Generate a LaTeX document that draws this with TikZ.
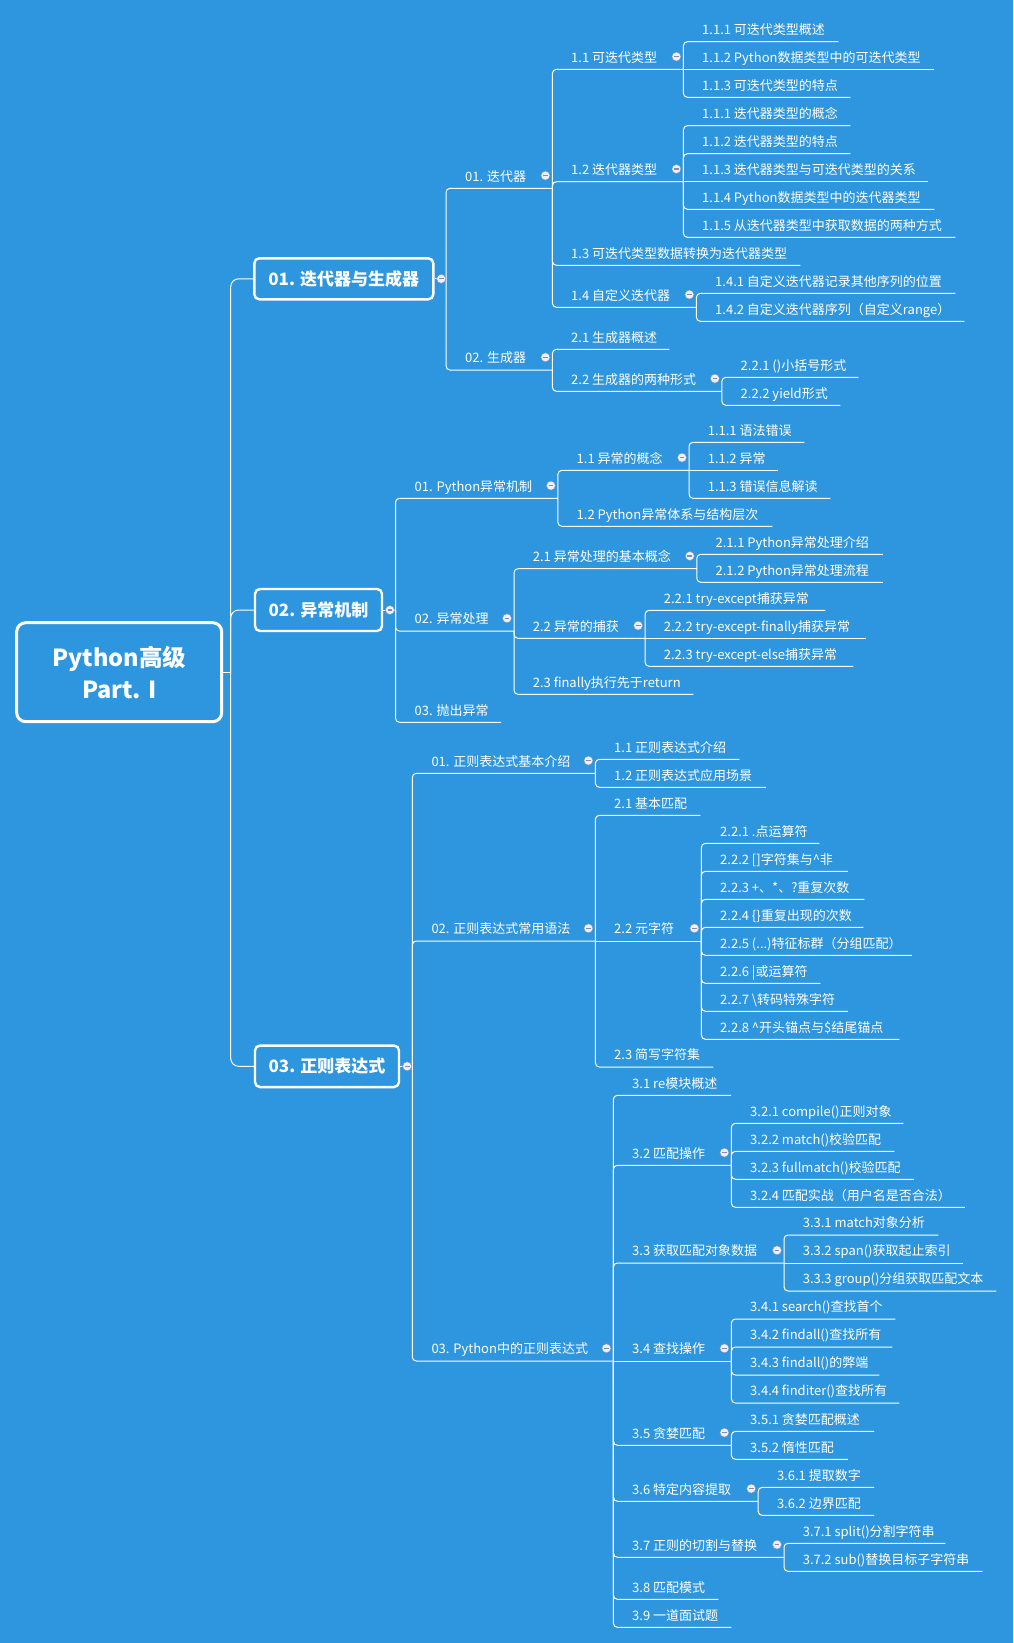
\documentclass[tikz,border=0pt]{standalone}
\usepackage{fontspec}
\setmainfont{Noto Sans CJK SC}
\definecolor{bg}{RGB}{46,150,222}
\definecolor{foldfill}{RGB}{236,240,248}
\definecolor{foldline}{RGB}{130,140,180}
\newcommand\mmItemFont{\fontsize{13pt}{15pt}\selectfont}
\newcommand\mmBoxFont{\fontsize{17pt}{20pt}\selectfont\bfseries}
\newcommand\mmRootFont{\fontsize{23.5pt}{31.6pt}\selectfont\bfseries}
\tikzset{
  conn/.style={draw=white, line width=1pt, rounded corners=4pt},
  item/.style={anchor=south west, inner sep=0pt, text=white, font=\mmItemFont},
  mainbox/.style={draw=white, line width=2.4pt, rounded corners=5pt, text=white, font=\mmBoxFont, inner sep=0pt},
  rootbox/.style={draw=white, line width=3pt, rounded corners=9pt, text=white, font=\mmRootFont, align=center, inner sep=0pt},
  fold/.style={circle, fill=foldfill, draw=foldline, line width=0.4pt, minimum size=9pt, inner sep=0pt,
    path picture={\draw[foldline, line width=1.2pt] ([xshift=-2.4pt]path picture bounding box.center) -- ([xshift=2.4pt]path picture bounding box.center);}}
}
\newcommand\mmleaf[5]{\node[item] (#1) at (#2,#3) {\makebox[\dimexpr #4pt-#2pt\relax][l]{\hspace*{19pt}\rule[-7pt]{0pt}{20pt}#5}};}
\newcommand\mmfold[1]{\node[fold] (f#1) at ([xshift=-7pt,yshift=12.7pt]#1.south east) {};}
\newcommand\mmlink[2]{\draw[conn] (#1) |- (#2.south east);}
\newcommand\mmstraight[2]{\draw[conn] (#1) -- (#2.south east);}
\begin{document}
\begin{tikzpicture}[x=1pt,y=-1pt]
\fill[bg] (0,0) rectangle (1013,1643);
\useasboundingbox (0,0) rectangle (1013,1643);

% root and main boxes
\node[rootbox, minimum width=205pt, minimum height=99pt] (R) at (119.2,672.2) {Python高级\\Part. I};
\node[mainbox, minimum width=179pt, minimum height=41pt] (M1) at (343.8,278.8) {01. 迭代器与生成器};
\node[mainbox, minimum width=127pt, minimum height=42pt] (M2) at (318.5,610) {02. 异常机制};
\node[mainbox, minimum width=144pt, minimum height=41.5pt] (M3) at (327,1066.3) {03. 正则表达式};
\coordinate (rj) at (230.7,672.2);
\coordinate (j1) at (446,278.8);
\coordinate (j2) at (395.5,610);
\coordinate (j3) at (412.3,1066.3);

% ---- branch 1
\mmleaf{a1}{446}{188.3}{552}{01. 迭代器}
\mmleaf{a2}{446}{370}{552}{02. 生成器}
\mmleaf{a11}{552}{69.3}{683}{1.1 可迭代类型}
\mmleaf{a12}{552}{181.7}{683}{1.2 迭代器类型}
\mmleaf{a13}{552}{265.3}{800}{1.3 可迭代类型数据转换为迭代器类型}
\mmleaf{a14}{552}{307.3}{696}{1.4 自定义迭代器}
\mmleaf{a111}{683}{41.7}{838}{1.1.1 可迭代类型概述}
\mmleaf{a112}{683}{69.3}{934}{1.1.2 Python数据类型中的可迭代类型}
\mmleaf{a113}{683}{97.3}{850}{1.1.3 可迭代类型的特点}
\mmleaf{a121}{683}{125.7}{850}{1.1.1 迭代器类型的概念}
\mmleaf{a122}{683}{153.7}{850}{1.1.2 迭代器类型的特点}
\mmleaf{a123}{683}{181.7}{928}{1.1.3 迭代器类型与可迭代类型的关系}
\mmleaf{a124}{683}{209.3}{934}{1.1.4 Python数据类型中的迭代器类型}
\mmleaf{a125}{683}{237.3}{955}{1.1.5 从迭代器类型中获取数据的两种方式}
\mmleaf{a141}{696}{293.3}{955}{1.4.1 自定义迭代器记录其他序列的位置}
\mmleaf{a142}{696}{321.3}{964}{1.4.2 自定义迭代器序列（自定义range）}
\mmleaf{a21}{552}{349.3}{669}{2.1 生成器概述}
\mmleaf{a22}{552}{391.3}{721.5}{2.2 生成器的两种形式}
\mmleaf{a221}{721.5}{377.3}{858}{2.2.1 ()小括号形式}
\mmleaf{a222}{721.5}{405.3}{840}{2.2.2 yield形式}

% ---- branch 2
\mmleaf{b1}{395.5}{498.3}{557.5}{01. Python异常机制}
\mmleaf{b2}{395.5}{631}{513.6}{02. 异常处理}
\mmleaf{b3}{395.5}{722.3}{500.6}{03. 抛出异常}
\mmleaf{b11}{557.5}{470.3}{688.6}{1.1 异常的概念}
\mmleaf{b12}{557.5}{526.3}{772}{1.2 Python异常体系与结构层次}
\mmleaf{b111}{688.6}{442.3}{804}{1.1.1 语法错误}
\mmleaf{b112}{688.6}{470.3}{778}{1.1.2 异常}
\mmleaf{b113}{688.6}{498.3}{830}{1.1.3 错误信息解读}
\mmleaf{b21}{513.6}{568.7}{696.4}{2.1 异常处理的基本概念}
\mmleaf{b22}{513.6}{638.3}{644.7}{2.2 异常的捕获}
\mmleaf{b23}{513.6}{694.3}{693}{2.3 finally执行先于return}
\mmleaf{b211}{696.4}{554.3}{882.5}{2.1.1 Python异常处理介绍}
\mmleaf{b212}{696.4}{582.3}{882.5}{2.1.2 Python异常处理流程}
\mmleaf{b221}{644.7}{610.3}{825}{2.2.1 try-except捕获异常}
\mmleaf{b222}{644.7}{638.3}{865.6}{2.2.2 try-except-finally捕获异常}
\mmleaf{b223}{644.7}{666.3}{853}{2.2.3 try-except-else捕获异常}

% ---- branch 3
\mmleaf{c1}{412.3}{773.3}{595}{01. 正则表达式基本介绍}
\mmleaf{c2}{412.3}{941}{595}{02. 正则表达式常用语法}
\mmleaf{c3}{412.3}{1361}{613}{03. Python中的正则表达式}
\mmleaf{c11}{595}{759.3}{739}{1.1 正则表达式介绍}
\mmleaf{c12}{595}{787.3}{765.5}{1.2 正则表达式应用场景}
\mmleaf{c21}{595}{815.3}{700}{2.1 基本匹配}
\mmleaf{c22}{595}{941}{701}{2.2 元字符}
\mmleaf{c23}{595}{1067}{713}{2.3 简写字符集}
\mmleaf{c221}{701}{843.3}{819}{2.2.1 .点运算符}
\mmleaf{c222}{701}{871.3}{847.5}{2.2.2 []字符集与\textasciicircum 非}
\mmleaf{c223}{701}{899.3}{864}{2.2.3 +、*、?重复次数}
\mmleaf{c224}{701}{927.3}{863}{2.2.4 \{\}重复出现的次数}
\mmleaf{c225}{701}{955.3}{911.5}{2.2.5 (...)特征标群（分组匹配）}
\mmleaf{c226}{701}{983.3}{820}{2.2.6 |或运算符}
\mmleaf{c227}{701}{1011.3}{847.5}{2.2.7 \textbackslash 转码特殊字符}
\mmleaf{c228}{701}{1039.3}{899}{2.2.8 \textasciicircum 开头锚点与\$结尾锚点}
\mmleaf{c31}{613}{1095.3}{730.7}{3.1 re模块概述}
\mmleaf{c32}{613}{1165.3}{731}{3.2 匹配操作}
\mmleaf{c33}{613}{1263}{783.6}{3.3 获取匹配对象数据}
\mmleaf{c34}{613}{1361}{731}{3.4 查找操作}
\mmleaf{c35}{613}{1445.3}{731}{3.5 贪婪匹配}
\mmleaf{c36}{613}{1501.3}{757.8}{3.6 特定内容提取}
\mmleaf{c37}{613}{1557.3}{783.6}{3.7 正则的切割与替换}
\mmleaf{c38}{613}{1599.3}{718}{3.8 匹配模式}
\mmleaf{c39}{613}{1627.3}{731}{3.9 一道面试题}
\mmleaf{c321}{731}{1123.3}{903}{3.2.1 compile()正则对象}
\mmleaf{c322}{731}{1151.3}{894}{3.2.2 match()校验匹配}
\mmleaf{c323}{731}{1179.3}{913.5}{3.2.3 fullmatch()校验匹配}
\mmleaf{c324}{731}{1207.3}{964.5}{3.2.4 匹配实战（用户名是否合法）}
\mmleaf{c331}{783.6}{1235}{938}{3.3.1 match对象分析}
\mmleaf{c332}{783.6}{1263}{962.5}{3.3.2 span()获取起止索引}
\mmleaf{c333}{783.6}{1291}{996}{3.3.3 group()分组获取匹配文本}
\mmleaf{c341}{731}{1319}{895}{3.4.1 search()查找首个}
\mmleaf{c342}{731}{1347}{892}{3.4.2 findall()查找所有}
\mmleaf{c343}{731}{1375}{879}{3.4.3 findall()的弊端}
\mmleaf{c344}{731}{1403}{899}{3.4.4 finditer()查找所有}
\mmleaf{c351}{731}{1431.3}{873.6}{3.5.1 贪婪匹配概述}
\mmleaf{c352}{731}{1459.3}{847.5}{3.5.2 惰性匹配}
\mmleaf{c361}{757.8}{1487.3}{873.6}{3.6.1 提取数字}
\mmleaf{c362}{757.8}{1515.3}{873.6}{3.6.2 边界匹配}
\mmleaf{c371}{783.6}{1543.3}{945}{3.7.1 split()分割字符串}
\mmleaf{c372}{783.6}{1571.3}{982}{3.7.2 sub()替换目标子字符串}

% ---- connectors: root and main boxes
\draw[conn] (R.east) -- (rj);
\draw[conn, rounded corners=8pt] (rj) |- (M1.west);
\draw[conn, rounded corners=8pt] (rj) |- (M2.west);
\draw[conn, rounded corners=8pt] (rj) |- (M3.west);
\draw[conn] (M1.east) -- (j1);
\draw[conn] (M2.east) -- (j2);
\draw[conn] (M3.east) -- (j3);

% branch 1
\mmlink{j1}{a1} \mmlink{j1}{a2}
\mmlink{a1.south east}{a11} \mmlink{a1.south east}{a12} \mmlink{a1.south east}{a13} \mmlink{a1.south east}{a14}
\mmlink{a11.south east}{a111} \mmstraight{a11.south east}{a112} \mmlink{a11.south east}{a113}
\mmlink{a12.south east}{a121} \mmlink{a12.south east}{a122} \mmstraight{a12.south east}{a123}
\mmlink{a12.south east}{a124} \mmlink{a12.south east}{a125}
\mmlink{a14.south east}{a141} \mmlink{a14.south east}{a142}
\mmlink{a2.south east}{a21} \mmlink{a2.south east}{a22}
\mmlink{a22.south east}{a221} \mmlink{a22.south east}{a222}

% branch 2
\mmlink{j2}{b1} \mmlink{j2}{b2} \mmlink{j2}{b3}
\mmlink{b1.south east}{b11} \mmlink{b1.south east}{b12}
\mmlink{b11.south east}{b111} \mmstraight{b11.south east}{b112} \mmlink{b11.south east}{b113}
\mmlink{b2.south east}{b21} \mmlink{b2.south east}{b22} \mmlink{b2.south east}{b23}
\mmlink{b21.south east}{b211} \mmlink{b21.south east}{b212}
\mmlink{b22.south east}{b221} \mmstraight{b22.south east}{b222} \mmlink{b22.south east}{b223}

% branch 3
\mmlink{j3}{c1} \mmlink{j3}{c2} \mmlink{j3}{c3}
\mmlink{c1.south east}{c11} \mmlink{c1.south east}{c12}
\mmlink{c2.south east}{c21} \mmstraight{c2.south east}{c22} \mmlink{c2.south east}{c23}
\foreach \k in {1,...,8} {\mmlink{c22.south east}{c22\k}}
\foreach \k in {1,2,3,5,6,7,8,9} {\mmlink{c3.south east}{c3\k}}
\mmstraight{c3.south east}{c34}
\foreach \k in {1,...,4} {\mmlink{c32.south east}{c32\k}}
\mmlink{c33.south east}{c331} \mmstraight{c33.south east}{c332} \mmlink{c33.south east}{c333}
\foreach \k in {1,...,4} {\mmlink{c34.south east}{c34\k}}
\mmlink{c35.south east}{c351} \mmlink{c35.south east}{c352}
\mmlink{c36.south east}{c361} \mmlink{c36.south east}{c362}
\mmlink{c37.south east}{c371} \mmlink{c37.south east}{c372}

% ---- fold markers
\node[fold] (fM1) at ([xshift=6.7pt]M1.east) {};
\node[fold] (fM2) at ([xshift=6.7pt]M2.east) {};
\node[fold] (fM3) at ([xshift=6.9pt]M3.east) {};
\mmfold{a1} \mmfold{a2} \mmfold{a11} \mmfold{a12} \mmfold{a14} \mmfold{a22}
\mmfold{b1} \mmfold{b2} \mmfold{b11} \mmfold{b21} \mmfold{b22}
\mmfold{c1} \mmfold{c2} \mmfold{c22} \mmfold{c3}
\mmfold{c32} \mmfold{c33} \mmfold{c34} \mmfold{c35} \mmfold{c36} \mmfold{c37}
\end{tikzpicture}
\end{document}
